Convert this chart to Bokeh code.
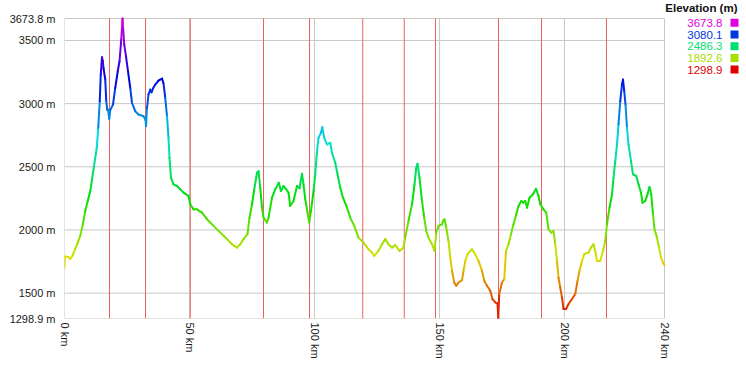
import colorsys
from bokeh.plotting import figure
from bokeh.models import Range1d, FixedTicker, ColumnDataSource
from bokeh.core.properties import value
from bokeh.embed import file_html
from bokeh.resources import INLINE

# ---- data ----
km = [0, 0.1, 1.5, 2.3, 3.3, 4.3, 5.3, 6.3, 7.3, 8.3, 9.3, 10.3, 11.0, 11.7, 12.9, 13.5, 14.1, 14.5,
      15.0, 15.3, 15.6, 16.3, 16.7, 17.1, 17.4, 17.9, 18.3, 19.4, 20.3, 21.3, 22.0, 22.7, 23.0, 23.2,
      23.5, 23.9, 24.6, 25.4, 26.3, 27.0, 28.3, 29.6, 31.6, 32.4, 32.6, 33.0, 33.6, 34.3, 34.8, 35.4,
      36.3, 37.6, 39.0, 39.6, 40.3, 41.0, 41.6, 42.0, 42.6, 43.6, 45.0, 46.3, 47.6, 49.6, 50.3, 51.6,
      53.0, 55.0, 57.0, 59.6, 62.3, 65.0, 67.0, 69.0, 70.3, 71.6, 73.2, 74.0, 75.0, 75.9, 77.0, 77.6,
      78.3, 79.0, 79.6, 81.0, 81.6, 83.0, 84.3, 85.7, 86.6, 87.6, 88.7, 89.6, 90.3, 91.6, 93.0, 94.0,
      95.0, 95.6, 96.3, 97.2, 97.9, 98.6, 99.6, 100.3, 101.0, 101.6, 102.6, 103.1, 103.9, 105.0, 106.3,
      107.0, 108.3, 109.2, 110.3, 111.4, 113.0, 114.3, 115.9, 117.6, 119.6, 121.6, 123.0, 123.9, 125.6,
      127.0, 128.3, 129.6, 131.0, 132.3, 134.0, 135.6, 136.3, 137.6, 139.0, 140.0, 140.7, 141.2, 142.0,
      143.0, 143.9, 144.7, 145.6, 147.0, 148.0, 148.7, 149.6, 151.0, 151.6, 152.0, 152.7, 153.6, 154.3,
      155.0, 155.9, 156.7, 157.6, 159.0, 159.6, 160.3, 161.2, 163.0, 164.3, 165.6, 167.0, 167.9, 169.0,
      170.3, 171.2, 172.3, 173.2, 173.5, 173.9, 175.0, 175.9, 176.6, 177.6, 178.6, 179.6, 180.7, 181.6,
      182.7, 183.6, 184.3, 185.0, 186.0, 187.4, 188.6, 189.6, 190.3, 191.6, 192.7, 193.6, 194.7, 195.6,
      196.3, 197.0, 197.6, 198.3, 199.0, 199.6, 200.6, 201.6, 203.0, 204.3, 205.2, 206.0, 207.0, 207.9,
      209.6, 210.6, 211.6, 212.3, 213.0, 214.3, 215.4, 216.3, 217.0, 218.0, 219.0, 219.6, 220.3, 221.0,
      221.6, 222.3, 223.0, 223.4, 223.9, 224.4, 225.0, 225.6, 226.6, 227.4, 228.7, 229.6, 230.6, 231.2,
      232.3, 233.2, 234.0, 234.7, 235.4, 236.0, 237.0, 237.8, 238.6, 239.4, 240.0]
elev = [1700, 1790, 1785, 1770, 1800, 1850, 1900, 1953, 2040, 2150, 2230, 2308, 2400, 2492, 2650, 2808, 3019, 3230,
        3367, 3340, 3282, 3190, 3019, 2950, 2953, 2880, 2950, 2993, 3124, 3256, 3335, 3506, 3600, 3674,
        3580, 3467, 3374, 3256, 3124, 3006, 2940, 2914, 2900, 2870, 2821, 2966, 3072, 3111, 3090, 3119,
        3151, 3182, 3198, 3160, 3045, 2900, 2729, 2571, 2413, 2361, 2348, 2321, 2295, 2269, 2203, 2163,
        2163, 2137, 2085, 2032, 1979, 1927, 1887, 1860, 1887, 1927, 1966, 2097, 2203, 2321, 2453, 2466,
        2334, 2176, 2097, 2058, 2097, 2255, 2321, 2374, 2308, 2348, 2321, 2295, 2190, 2229, 2348, 2330,
        2445, 2361, 2242, 2137, 2058, 2150, 2308, 2440, 2624, 2729, 2769, 2814, 2729, 2677, 2690,
        2611, 2532, 2440, 2334, 2255, 2176, 2097, 2032, 1939, 1900, 1847, 1821, 1795, 1834,
        1887, 1927, 1887, 1860, 1881, 1834, 1860, 1939, 2071, 2203, 2361, 2492, 2524, 2413,
        2229, 2097, 1992, 1939, 1887, 1834, 1979, 2032, 2045, 2077, 2085, 2019, 1913, 1781,
        1676, 1584, 1558, 1584, 1603, 1676, 1755, 1808, 1847, 1808, 1755, 1676, 1597, 1558,
        1518, 1453, 1426, 1418, 1300, 1492, 1584, 1611, 1834, 1887, 1966, 2045, 2124, 2190,
        2229, 2216, 2230, 2176, 2255, 2282, 2326, 2269, 2203, 2163, 2137, 2006, 1979, 1992,
        1887, 1755, 1623, 1544, 1465, 1374, 1374, 1413, 1453, 1492, 1597, 1676, 1755, 1808,
        1821, 1860, 1887, 1834, 1755, 1755, 1834, 1913, 2045, 2176, 2282, 2413, 2545, 2677,
        2835, 3019, 3151, 3190, 3098, 2993, 2808, 2677, 2545, 2440, 2427, 2361, 2295, 2216,
        2229, 2282, 2340, 2282, 2124, 2006, 1939, 1860, 1781, 1742, 1720]

waypoints_km = [18.0, 32.4, 50.3, 79.6, 98.0, 119.3, 135.9, 148.4, 173.6, 190.8, 216.8]

x_ticks = [0, 50, 100, 150, 200, 240]
x_tick_labels = ["0 km", "50 km", "100 km", "150 km", "200 km", "240 km"]
x_min, x_max = 0, 240
y_min, y_max = 1298.9, 3673.8
y_ticks = [1298.9, 1500, 2000, 2500, 3000, 3500, 3673.8]
y_tick_labels = ["1298.9 m", "1500 m", "2000 m", "2500 m", "3000 m", "3500 m", "3673.8 m"]
legend_levels = [3673.8, 3080.1, 2486.3, 1892.6, 1298.9]
legend_title = "Elevation (m)"


def elev_color(e):
    t = (e - y_min) / (y_max - y_min)
    t = min(max(t, 0.0), 1.0)
    r, g, b = colorsys.hsv_to_rgb(t * 300.0 / 360.0, 1.0, 0.88)
    return "#%02x%02x%02x" % (int(r * 255), int(g * 255), int(b * 255))


FONT = "Liberation Sans"
GRID = "#c8c8c8"

# layout (pixels)
PLOT_W, PLOT_H = 600, 300     # data area
LEFT, BOTTOM = 64, 44
TOP_PAD, RIGHT_PAD = 18, 76   # legend area inside the frame
px_per_km = PLOT_W / (x_max - x_min)
px_per_m = PLOT_H / (y_max - y_min)

p = figure(width=LEFT + PLOT_W + RIGHT_PAD, height=TOP_PAD + PLOT_H + BOTTOM,
           output_backend="svg", toolbar_location=None,
           x_range=Range1d(x_min, x_max + RIGHT_PAD / px_per_km),
           y_range=Range1d(y_min, y_max + TOP_PAD / px_per_m),
           min_border_left=LEFT, min_border_right=0, min_border_top=0, min_border_bottom=BOTTOM)
p.background_fill_color = "white"
p.border_fill_color = "white"
p.outline_line_color = None
p.xgrid.grid_line_color = None
p.ygrid.grid_line_color = None

p.xaxis.ticker = FixedTicker(ticks=x_ticks)
p.xaxis.major_label_overrides = {t: l for t, l in zip(x_ticks, x_tick_labels)}
p.xaxis.major_label_orientation = "vertical"
p.yaxis.ticker = FixedTicker(ticks=y_ticks)
p.yaxis.major_label_overrides = {t: l for t, l in zip(y_ticks, y_tick_labels)}
for ax in (p.xaxis, p.yaxis):
    ax.axis_line_color = None
    ax.major_tick_out = 0
    ax.major_tick_in = 0
    ax.minor_tick_out = 0
    ax.minor_tick_in = 0
    ax.major_label_text_font = FONT
    ax.major_label_text_font_size = "11px"
    ax.major_label_text_color = "#1a1a1a"
p.yaxis.major_label_standoff = 9
p.xaxis.major_label_standoff = 4

# grid + frame box (restricted to data area)
gx0 = [x_min] * len(y_ticks) + x_ticks
gx1 = [x_max] * len(y_ticks) + x_ticks
gy0 = y_ticks + [y_min] * len(x_ticks)
gy1 = y_ticks + [y_max] * len(x_ticks)
p.segment(gx0, gy0, gx1, gy1, line_color=GRID, line_width=1)

# waypoint markers
p.segment(waypoints_km, [y_min] * len(waypoints_km), waypoints_km, [y_max] * len(waypoints_km),
          line_color="#f06060", line_width=1)

# elevation profile coloured by height
x0 = km[:-1]
x1 = km[1:]
y0 = elev[:-1]
y1 = elev[1:]
cols = [elev_color((a + b) / 2.0) for a, b in zip(y0, y1)]
src = ColumnDataSource(dict(x0=x0, x1=x1, y0=y0, y1=y1, c=cols))
p.segment("x0", "y0", "x1", "y1", source=src, line_color="c", line_width=2, line_cap="round")


# legend (positioned in pixels relative to data area's top-left corner)
def kx(px):
    return x_min + px / px_per_km


def my(py):
    return y_max - py / px_per_m


p.text([kx(673)], [my(-10.5)], text=[legend_title], text_align="right", text_baseline="middle",
       text_font=value(FONT), text_font_size="11.5px", text_font_style="bold", text_color="#111111")
ly = [my(4.3 + i * 11.7) for i in range(len(legend_levels))]
lc = [elev_color(v) for v in legend_levels]
lt = ["%.1f" % v for v in legend_levels]
leg = ColumnDataSource(dict(x=[kx(658)] * len(ly), xs=[kx(670)] * len(ly), y=ly, t=lt, c=lc))
p.text("x", "y", text="t", source=leg, text_align="right", text_baseline="middle",
       text_font=value(FONT), text_font_size="11.5px", text_color="c")
p.rect("xs", "y", width=8, height=8, width_units="screen", height_units="screen", source=leg,
       fill_color="c", line_color=None)

open("out.html", "w").write(file_html(p, INLINE))
